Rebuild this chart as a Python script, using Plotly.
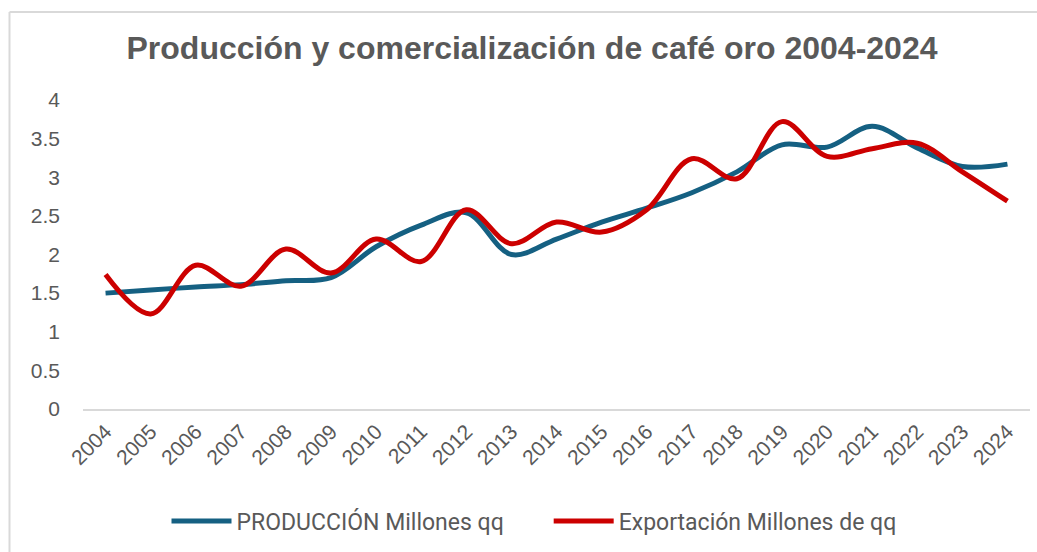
import plotly.graph_objects as go

years = [str(y) for y in range(2004, 2025)]
produccion = [1.50, 1.54, 1.58, 1.61, 1.66, 1.70, 2.10, 2.38, 2.54, 2.00, 2.20, 2.42, 2.60, 2.80, 3.07, 3.42, 3.39, 3.66, 3.38, 3.14, 3.17]
exportacion = [1.74, 1.23, 1.86, 1.59, 2.07, 1.76, 2.20, 1.91, 2.58, 2.14, 2.42, 2.29, 2.58, 3.24, 2.98, 3.72, 3.27, 3.37, 3.44, 3.07, 2.69]
series_names = ["PRODUCCIÓN Millones qq", "Exportación Millones de qq"]

W, H = 1037, 552
L, R, T, B = 83, 7, 100, 143
pw, ph = W - L - R, H - T - B

tick_font = "Liberation Sans, Arial, sans-serif"
legend_font = "Roboto, Liberation Sans, sans-serif"
gray = "#595959"
pad = "\u00a0" * 7

fig = go.Figure()
fig.add_trace(go.Scatter(x=years, y=produccion, mode="lines", name=series_names[0] + pad,
                         line=dict(color="#156082", width=5, shape="spline", smoothing=1.0)))
fig.add_trace(go.Scatter(x=years, y=exportacion, mode="lines", name=series_names[1],
                         line=dict(color="#CC0000", width=5, shape="spline", smoothing=1.0)))


def px_x(x):
    return (x - L) / pw


def px_y(y):
    return (H - B - y) / ph


fig.update_layout(
    width=W, height=H,
    margin=dict(l=L, r=R, t=T, b=B),
    paper_bgcolor="white", plot_bgcolor="white",
    title=dict(text="<b>Producción y comercialización de café oro 2004-2024</b>",
               x=532 / W, xref="container", xanchor="center", y=1 - 48 / H, yanchor="middle",
               font=dict(family="Liberation Sans, Arial, sans-serif", size=32, color=gray)),
    xaxis=dict(type="category", range=[-0.5, 20.5], tickangle=-45, showgrid=False,
               showline=True, linecolor="#d9d9d9", linewidth=2, ticks="",
               tickfont=dict(family=tick_font, size=21, color=gray), fixedrange=True),
    yaxis=dict(range=[0, 4], dtick=0.5, showgrid=False, zeroline=False, showline=False,
               tickfont=dict(family=tick_font, size=21, color=gray), ticks="",
               ticklabelstandoff=22, fixedrange=True),
    legend=dict(orientation="h", x=px_x(534), xanchor="center", y=px_y(521), yanchor="middle",
                font=dict(family=legend_font, size=23, color=gray), itemwidth=60,
                traceorder="normal"),
    showlegend=True,
)

fig.add_shape(type="line", xref="paper", yref="paper", x0=px_x(9.5), x1=px_x(1045), y0=px_y(12), y1=px_y(12),
              line=dict(color="#d9d9d9", width=2))
fig.add_shape(type="line", xref="paper", yref="paper", x0=px_x(9.5), x1=px_x(9.5), y0=px_y(12), y1=px_y(560),
              line=dict(color="#d9d9d9", width=2))

fig.write_html("out.html", config={"displayModeBar": False},
               post_script="document.body.style.margin='0';document.body.style.overflow='hidden';")
